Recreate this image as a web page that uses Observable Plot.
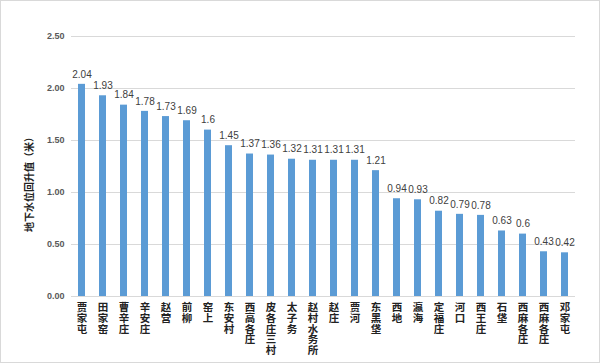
<!DOCTYPE html>
<html><head><meta charset="utf-8">
<script src="https://cdn.jsdelivr.net/npm/d3@7"></script>
<script src="https://cdn.jsdelivr.net/npm/@observablehq/plot@0.6"></script>
<style>body{margin:0;background:#fff}</style>
</head><body><div id="chart"></div>
<script>
const names = ["贾家屯","田家窑","曹辛庄","辛安庄","赵营","前柳","窑上","东安村","西高各庄","皮各庄三村","太子务","赵村水务所","赵庄","贾河","东黑垡","西地","瀛海","定福庄","河口","西王庄","石垡","西麻各庄","西麻各庄","邓家屯"];
const values = [2.04,1.93,1.84,1.78,1.73,1.69,1.6,1.45,1.37,1.36,1.32,1.31,1.31,1.31,1.21,0.94,0.93,0.82,0.79,0.78,0.63,0.6,0.43,0.42];
const yTicks = [0,0.5,1,1.5,2,2.5];
const yTitle = "地下水位回升值（米）";

const data = names.map((n,i)=>({i, name:n, value:values[i]}));
const idx = data.map(d=>d.i);

const chart = Plot.plot({
  width: 600, height: 363,
  marginLeft: 71, marginRight: 25, marginTop: 36, marginBottom: 67,
  style: {fontFamily: "'Liberation Sans', 'Noto Sans CJK SC', sans-serif", background: "#fff"},
  x: {type: "band", domain: idx, paddingInner: 0.67, paddingOuter: 0.335, axis: null},
  y: {domain: [0, 2.5], axis: null},
  marks: [
    () => d3.create("svg:rect").attr("x",0.5).attr("y",0.5).attr("width",599).attr("height",362)
            .attr("fill","none").attr("stroke","#d9d9d9").node(),
    Plot.gridY(yTicks.filter(d=>d>0), {stroke: "#d9d9d9", strokeOpacity: 1}),
    Plot.ruleY([0], {stroke: "#d9d9d9"}),
    Plot.barY(data, {x: "i", y: "value", fill: "#5b9bd5"}),
    Plot.text(data, {x: "i", y: "value", text: d => String(d.value), dy: -10, fontSize: 10, fill: "#404040"}),
    Plot.axisY({ticks: yTicks, tickFormat: d => d.toFixed(2), tickSize: 0, tickPadding: 7, fontSize: 9, fontWeight: "bold", color: "#595959", label: null}),
    Plot.axisX({ticks: idx, tickFormat: i => names[i].split("").join("\n"), tickSize: 0, tickPadding: 7, fontSize: 10.5, lineHeight: 1.02, fontWeight: "bold", color: "#222",
      fontFamily: "'Noto Sans CJK SC', sans-serif", label: null}),
    () => d3.create("svg:text").attr("transform", "translate(29,182) rotate(-90)")
            .attr("text-anchor","middle").attr("dy","0.35em")
            .attr("font-size", 10).attr("font-weight","bold").attr("fill","#222")
            .attr("font-family","'Noto Sans CJK SC', sans-serif").text(yTitle).node()
  ]
});
document.getElementById("chart").append(chart);
</script></body></html>
